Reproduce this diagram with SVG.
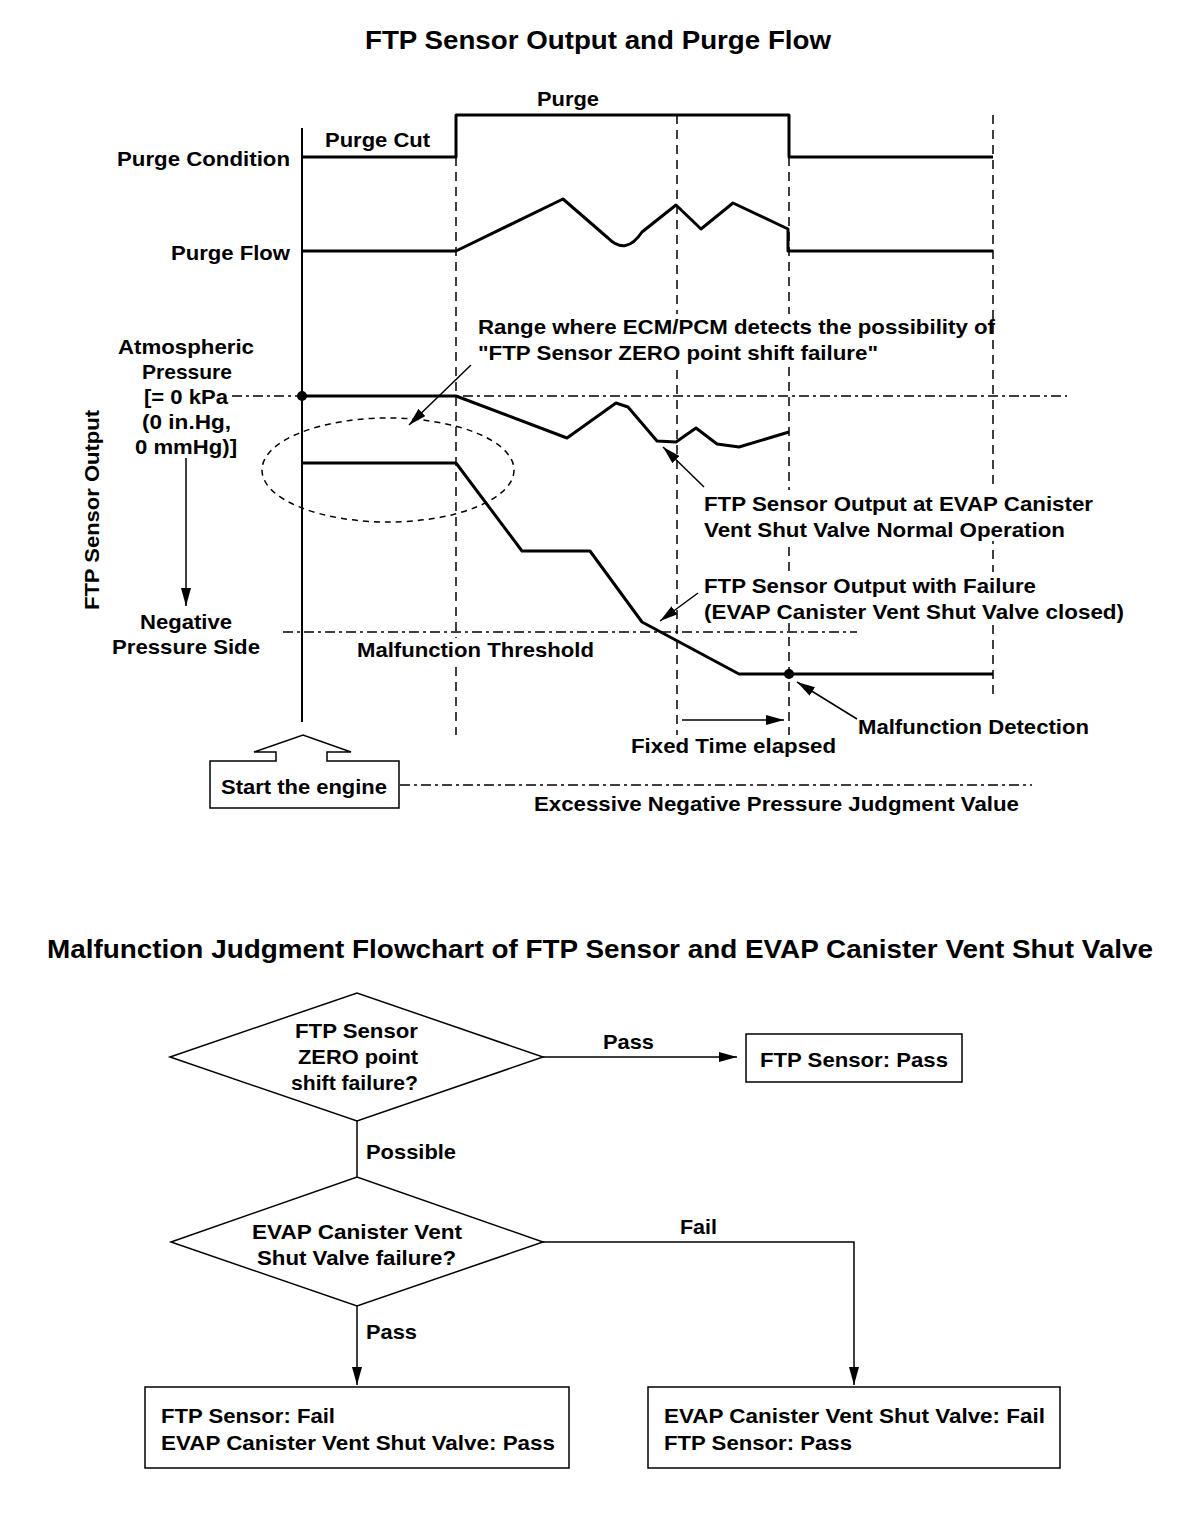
<svg xmlns="http://www.w3.org/2000/svg" width="1184" height="1516" viewBox="0 0 1184 1516">
<style>
text{font-family:"Liberation Sans",Arial,sans-serif;font-weight:bold;font-size:21px;fill:#000}
.title{font-size:25px}
.c{text-anchor:middle}
.thick{fill:none;stroke:#000;stroke-width:3;stroke-linejoin:round}
.thin{fill:none;stroke:#000;stroke-width:1.5}
.dash{fill:none;stroke:#000;stroke-width:1.5;stroke-dasharray:9,6}
.dd{fill:none;stroke:#000;stroke-width:1.5;stroke-dasharray:10,4,3,4}
.box{fill:#fff;stroke:#000;stroke-width:1.5}
.knock{fill:#fff}
</style>
<defs>
<marker id="ah" viewBox="0 0 18 10" refX="18" refY="5" markerWidth="18" markerHeight="10" markerUnits="userSpaceOnUse" orient="auto">
<path d="M0,0 L18,5 L0,10 Z" fill="#000"/>
</marker>
</defs>
<rect width="1184" height="1516" fill="#fff"/>

<g id="chart">
<text class="title c" x="598" y="49" textLength="466" lengthAdjust="spacingAndGlyphs">FTP Sensor Output and Purge Flow</text>
<line x1="302" y1="128" x2="302" y2="722" stroke="#000" stroke-width="2"/>
<line class="dash" x1="456" y1="157" x2="456" y2="735"/>
<line class="dash" x1="677" y1="115" x2="677" y2="735"/>
<line class="dash" x1="789" y1="157" x2="789" y2="735"/>
<line class="dash" x1="993" y1="115" x2="993" y2="700"/>
<line class="dd" x1="232" y1="396" x2="1067" y2="396"/>
<line class="dd" x1="283" y1="632" x2="857" y2="632"/>
<line class="dd" x1="400" y1="785" x2="1032" y2="785"/>
<rect class="knock" x="476" y="314" width="514" height="50"/>
<rect class="knock" x="702" y="490" width="393" height="51"/>
<rect class="knock" x="702" y="572" width="424" height="51"/>
<rect class="knock" x="355" y="638" width="241" height="24"/>
<polyline class="thick" points="302,157 456,157 456,115 789,115 789,157 993,157"/>
<path class="thick" d="M302,251 L456,251 L563,199 L608,238 Q626,256 642,232 L676,205 L701,229 L733,203 L788,229 L788,251 L993,251"/>
<polyline class="thick" points="302,396 456,396 567,438 616,403 628,407 657,441 676,442 696,428 717,444 739,447 789,432"/>
<polyline class="thick" points="302,463 456,463 522,551 590,551 642,622 739,674 993,674"/>
<circle cx="302" cy="396" r="5"/>
<circle cx="789" cy="674" r="5"/>
<ellipse cx="388" cy="470" rx="126" ry="52" fill="none" stroke="#000" stroke-width="1.5" stroke-dasharray="6,5"/>
<text x="325" y="147" textLength="105" lengthAdjust="spacingAndGlyphs">Purge Cut</text>
<text x="537" y="106" textLength="62" lengthAdjust="spacingAndGlyphs">Purge</text>
<text x="117" y="166" textLength="173" lengthAdjust="spacingAndGlyphs">Purge Condition</text>
<text x="171" y="260" textLength="119" lengthAdjust="spacingAndGlyphs">Purge Flow</text>
<text x="478" y="334" textLength="517" lengthAdjust="spacingAndGlyphs">Range where ECM/PCM detects the possibility of</text>
<text x="478" y="360" textLength="400" lengthAdjust="spacingAndGlyphs">"FTP Sensor ZERO point shift failure"</text>
<text x="704" y="511" textLength="389" lengthAdjust="spacingAndGlyphs">FTP Sensor Output at EVAP Canister</text>
<text x="704" y="537" textLength="361" lengthAdjust="spacingAndGlyphs">Vent Shut Valve Normal Operation</text>
<text x="704" y="593" textLength="332" lengthAdjust="spacingAndGlyphs">FTP Sensor Output with Failure</text>
<text x="704" y="619" textLength="420" lengthAdjust="spacingAndGlyphs">(EVAP Canister Vent Shut Valve closed)</text>
<text x="357" y="657" textLength="237" lengthAdjust="spacingAndGlyphs">Malfunction Threshold</text>
<text x="858" y="734" textLength="231" lengthAdjust="spacingAndGlyphs">Malfunction Detection</text>
<text x="631" y="753" textLength="205" lengthAdjust="spacingAndGlyphs">Fixed Time elapsed</text>
<text x="534" y="811" textLength="485" lengthAdjust="spacingAndGlyphs">Excessive Negative Pressure Judgment Value</text>
<text x="118" y="354" textLength="136" lengthAdjust="spacingAndGlyphs">Atmospheric</text>
<text x="142" y="379" textLength="90" lengthAdjust="spacingAndGlyphs">Pressure</text>
<text x="144" y="404" textLength="84" lengthAdjust="spacingAndGlyphs">[= 0 kPa</text>
<text x="142" y="429" textLength="89" lengthAdjust="spacingAndGlyphs">(0 in.Hg,</text>
<text x="135" y="454" textLength="102" lengthAdjust="spacingAndGlyphs">0 mmHg)]</text>
<text x="140" y="629" textLength="92" lengthAdjust="spacingAndGlyphs">Negative</text>
<text x="112" y="654" textLength="148" lengthAdjust="spacingAndGlyphs">Pressure Side</text>
<text class="c" transform="translate(99,510) rotate(-90)" textLength="200" lengthAdjust="spacingAndGlyphs">FTP Sensor Output</text>
</g>

<g id="connectors">
<line class="thin" x1="471" y1="365" x2="409" y2="425" marker-end="url(#ah)"/>
<line class="thin" x1="704" y1="487" x2="663" y2="447" marker-end="url(#ah)"/>
<line class="thin" x1="698" y1="593" x2="660" y2="621" marker-end="url(#ah)"/>
<line class="thin" x1="857" y1="719" x2="797" y2="682" marker-end="url(#ah)"/>
<line class="thin" x1="682" y1="720" x2="784" y2="720" marker-end="url(#ah)"/>
<line class="thin" x1="186" y1="458" x2="186" y2="606" marker-end="url(#ah)"/>
<line class="thin" x1="543" y1="1057" x2="737" y2="1057" marker-end="url(#ah)"/>
<line class="thin" x1="357" y1="1121" x2="357" y2="1177"/>
<polyline class="thin" points="543,1242 854,1242 854,1385" marker-end="url(#ah)"/>
<line class="thin" x1="357" y1="1306" x2="357" y2="1385" marker-end="url(#ah)"/>
</g>

<g id="start">
<path class="box" d="M276,761 L276,752 L254,752 L303,735 L351,752 L327,752 L327,761 L399,761 L399,808 L210,808 L210,761 Z"/>
<text x="221" y="794" textLength="166" lengthAdjust="spacingAndGlyphs">Start the engine</text>
</g>

<text class="title" x="47" y="958" textLength="1106" lengthAdjust="spacingAndGlyphs">Malfunction Judgment Flowchart of FTP Sensor and EVAP Canister Vent Shut Valve</text>

<g id="d1">
<polygon class="box" points="170,1057 357,993 543,1057 357,1121"/>
<text x="295" y="1038" textLength="123" lengthAdjust="spacingAndGlyphs">FTP Sensor</text>
<text x="298" y="1064" textLength="120" lengthAdjust="spacingAndGlyphs">ZERO point</text>
<text x="291" y="1090" textLength="127" lengthAdjust="spacingAndGlyphs">shift failure?</text>
</g>
<g id="b1">
<rect class="box" x="746" y="1034" width="216" height="48"/>
<text x="760" y="1067" textLength="188" lengthAdjust="spacingAndGlyphs">FTP Sensor: Pass</text>
</g>
<g id="d2">
<polygon class="box" points="171,1242 357,1177 543,1242 357,1306"/>
<text x="252" y="1239" textLength="210" lengthAdjust="spacingAndGlyphs">EVAP Canister Vent</text>
<text x="257" y="1265" textLength="199" lengthAdjust="spacingAndGlyphs">Shut Valve failure?</text>
</g>
<g id="b2">
<rect class="box" x="145" y="1387" width="424" height="81"/>
<text x="161" y="1423" textLength="174" lengthAdjust="spacingAndGlyphs">FTP Sensor: Fail</text>
<text x="161" y="1450" textLength="394" lengthAdjust="spacingAndGlyphs">EVAP Canister Vent Shut Valve: Pass</text>
</g>
<g id="b3">
<rect class="box" x="648" y="1387" width="412" height="81"/>
<text x="664" y="1423" textLength="381" lengthAdjust="spacingAndGlyphs">EVAP Canister Vent Shut Valve: Fail</text>
<text x="664" y="1450" textLength="188" lengthAdjust="spacingAndGlyphs">FTP Sensor: Pass</text>
</g>
<g id="labels">
<text x="603" y="1049" textLength="51" lengthAdjust="spacingAndGlyphs">Pass</text>
<text x="366" y="1159" textLength="90" lengthAdjust="spacingAndGlyphs">Possible</text>
<text x="680" y="1234" textLength="37" lengthAdjust="spacingAndGlyphs">Fail</text>
<text x="366" y="1339" textLength="51" lengthAdjust="spacingAndGlyphs">Pass</text>
</g>
</svg>
